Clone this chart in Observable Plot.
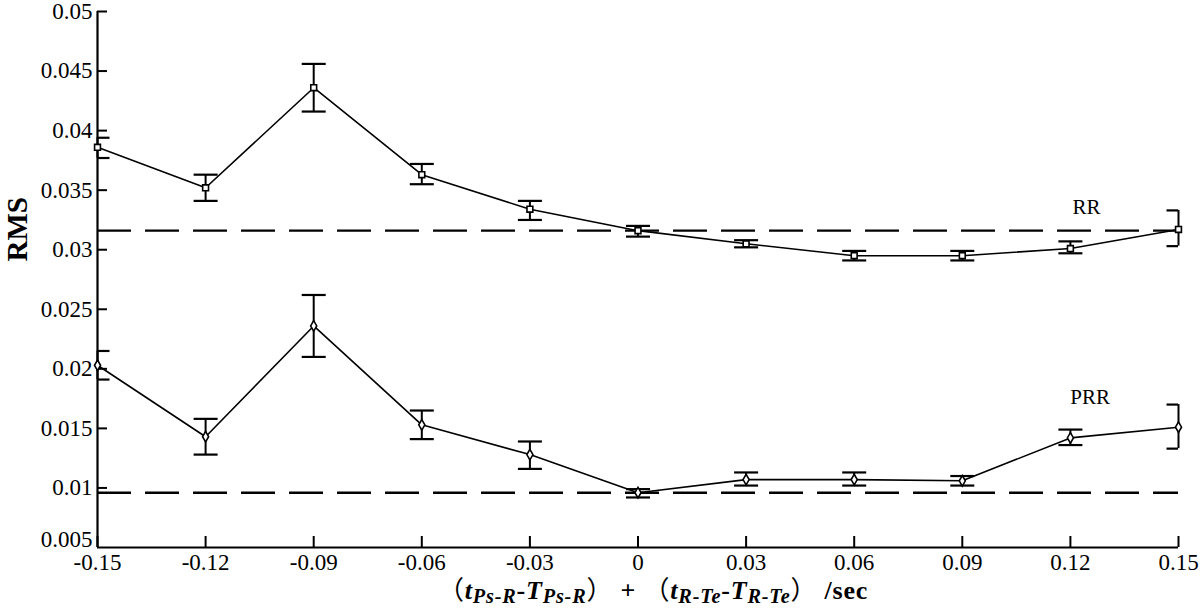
<!DOCTYPE html>
<html>
<head>
<meta charset="utf-8">
<script src="https://cdn.jsdelivr.net/npm/d3@7"></script>
<script src="https://cdn.jsdelivr.net/npm/@observablehq/plot@0.6"></script>
<style>
  html, body { margin: 0; padding: 0; background: #fff; }
  #wrap { position: relative; width: 1200px; height: 610px; overflow: hidden; }
  #xtitle {
    position: absolute; left: 438px; top: 575px; white-space: pre;
    font-family: "Liberation Serif", "Noto Sans CJK SC", serif; font-weight: bold;
    font-size: 26px; line-height: 1; color: #000; letter-spacing: 0.8px;
  }
  #xtitle sub { font-size: 0.78em; vertical-align: -0.22em; line-height: 0; }
  .paren { font-family: "Noto Sans CJK SC", sans-serif; font-weight: normal; }
</style>
</head>
<body>
<div id="wrap">
  <div id="chart"></div>
  <div id="xtitle"><span class="paren">（</span><i>t</i><sub><i>Ps-R</i></sub>-<i>T</i><sub><i>Ps-R</i></sub><span class="paren">）</span> + <span class="paren">（</span><i>t</i><sub><i>R-Te</i></sub>-<i>T</i><sub><i>R-Te</i></sub><span class="paren">）</span> /sec</div>
</div>
<script>
// ---- data ----
const xValues = [-0.15, -0.12, -0.09, -0.06, -0.03, 0, 0.03, 0.06, 0.09, 0.12, 0.15];
const xTickLabels = ["-0.15", "-0.12", "-0.09", "-0.06", "-0.03", "0", "0.03", "0.06", "0.09", "0.12", "0.15"];
const yTicks = [0.005, 0.01, 0.015, 0.02, 0.025, 0.03, 0.035, 0.04, 0.045, 0.05];
const yTickLabels = ["0.005", "0.01", "0.015", "0.02", "0.025", "0.03", "0.035", "0.04", "0.045", "0.05"];

const rrMean = [0.0386, 0.0352, 0.0436, 0.0363, 0.0334, 0.0316, 0.0305, 0.0295, 0.0295, 0.0301, 0.0317];
const rrLow  = [0.0377, 0.0341, 0.0416, 0.0355, 0.0325, 0.0311, 0.0302, 0.0291, 0.0291, 0.0297, 0.0303];
const rrHigh = [0.0394, 0.0363, 0.0456, 0.0372, 0.0341, 0.0320, 0.0308, 0.0299, 0.0299, 0.0307, 0.0333];

const prrMean = [0.0203, 0.0143, 0.0236, 0.0153, 0.0128, 0.0096, 0.0107, 0.0107, 0.0106, 0.0142, 0.0151];
const prrLow  = [0.0191, 0.0128, 0.0210, 0.0141, 0.0116, 0.0092, 0.0102, 0.0102, 0.0102, 0.0136, 0.0133];
const prrHigh = [0.0215, 0.0158, 0.0262, 0.0165, 0.0139, 0.0099, 0.0113, 0.0113, 0.0110, 0.0149, 0.0170];

const rrReference = 0.0316;
const prrReference = 0.0096;

const seriesLabels = [
  {name: "RR", x: 0.1245, y: 0.0336},
  {name: "PRR", x: 0.1255, y: 0.0176}
];

// ---- tables built from the arrays ----
const rr = xValues.map((x, i) => ({x, mean: rrMean[i], lo: rrLow[i], hi: rrHigh[i]}));
const prr = xValues.map((x, i) => ({x, mean: prrMean[i], lo: prrLow[i], hi: prrHigh[i]}));
const caps = [...rr, ...prr].flatMap(d => [{x: d.x, y: d.lo}, {x: d.x, y: d.hi}]);

const xLabel = new Map(xValues.map((v, i) => [v, xTickLabels[i]]));
const yLabel = new Map(yTicks.map((v, i) => [v, yTickLabels[i]]));
const yMin = yTicks[0];

// horizontal cap symbol for error bars
const capSymbol = {
  draw(context, size) {
    const w = Math.sqrt(size / Math.PI);
    context.moveTo(-w, 0);
    context.lineTo(w, 0);
  }
};

const chart = Plot.plot({
  width: 1200,
  height: 580,
  marginLeft: 97,
  marginRight: 22,
  marginTop: 11,
  marginBottom: 33,
  style: {fontFamily: "Liberation Serif, serif", fontSize: "23px", background: "white", color: "black", overflow: "visible"},
  x: {domain: [-0.15, 0.15]},
  y: {domain: [0.005, 0.05]},
  marks: [
    Plot.axisY({ticks: yTicks.filter(t => t !== yMin), tickSize: -10, tickPadding: 15, strokeWidth: 2, tickFormat: d => yLabel.get(d), label: null, fontSize: 23}),
    Plot.axisY({ticks: [yMin], tickSize: 0, tickPadding: 5, dy: -8, tickFormat: d => yLabel.get(d), label: null, fontSize: 23}),
    Plot.axisX({ticks: xValues, tickSize: -11, tickPadding: 17, strokeWidth: 2, tickFormat: d => xLabel.get(d), label: null, fontSize: 23}),
    Plot.ruleX([-0.15], {stroke: "black", strokeWidth: 2.2}),
    Plot.ruleY([0.005], {stroke: "black", strokeWidth: 2.2}),
    Plot.ruleY([rrReference], {stroke: "black", strokeWidth: 2.4, strokeDasharray: "34,14"}),
    Plot.ruleY([prrReference], {stroke: "black", strokeWidth: 2.4, strokeDasharray: "34,14"}),
    Plot.line(rr, {x: "x", y: "mean", stroke: "black", strokeWidth: 1.6}),
    Plot.line(prr, {x: "x", y: "mean", stroke: "black", strokeWidth: 1.6}),
    Plot.ruleX(rr, {x: "x", y1: "lo", y2: "hi", stroke: "black", strokeWidth: 2}),
    Plot.ruleX(prr, {x: "x", y1: "lo", y2: "hi", stroke: "black", strokeWidth: 2}),
    Plot.dot(caps, {x: "x", y: "y", symbol: capSymbol, r: 12, stroke: "black", fill: "none", strokeWidth: 2.2, clip: true}),
    Plot.dot(rr, {x: "x", y: "mean", symbol: "square", r: 3.3, fill: "white", stroke: "black", strokeWidth: 1.6}),
    Plot.dot(prr, {x: "x", y: "mean", symbol: "diamond", r: 3.2, fill: "white", stroke: "black", strokeWidth: 1.6}),
    Plot.text(seriesLabels, {x: "x", y: "y", text: "name", fontSize: 21, fill: "black", fontFamily: "Liberation Serif, serif"}),
    Plot.text(["RMS"], {text: d => d, frameAnchor: "left", dx: -80, dy: -18, rotate: -90, fontSize: 29, fontWeight: "bold", fill: "black"})
  ]
});
document.getElementById("chart").appendChild(chart);
</script>
</body>
</html>
